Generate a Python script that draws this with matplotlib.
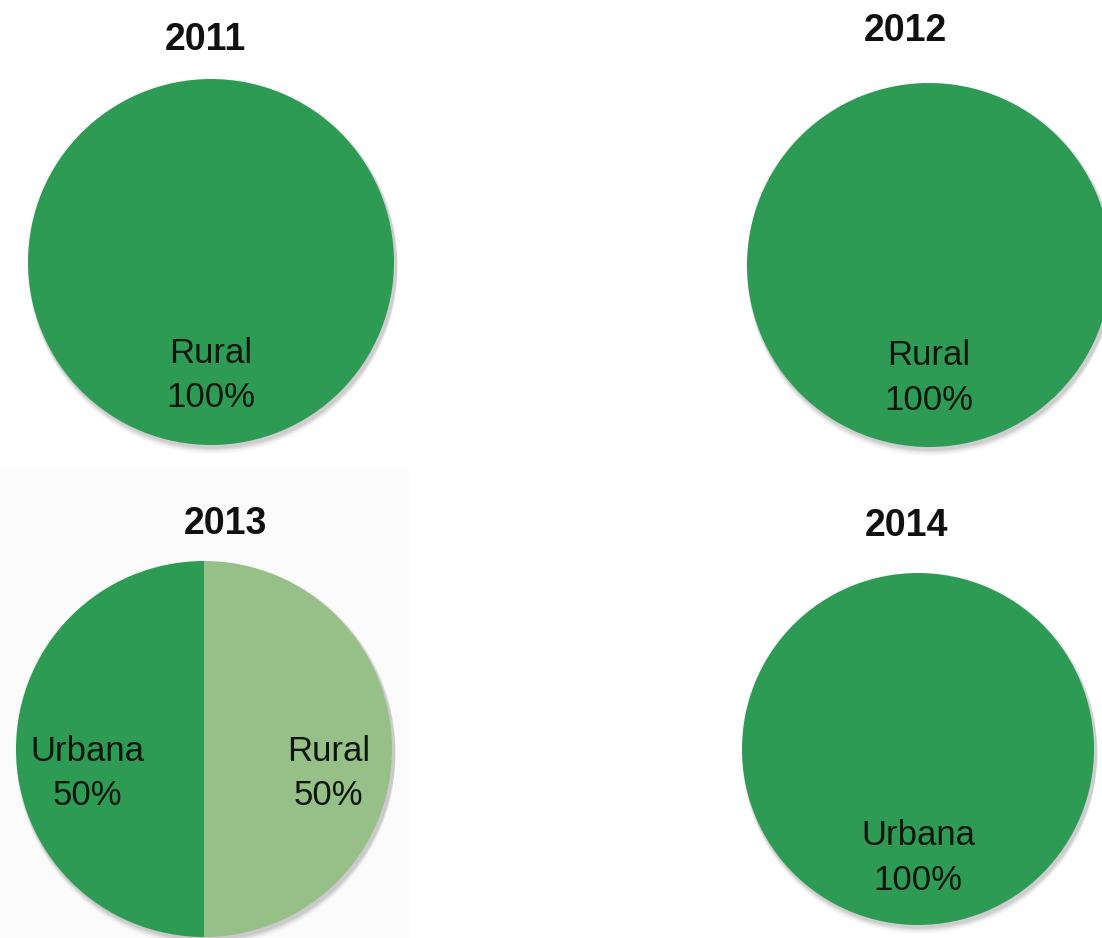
import matplotlib
matplotlib.use("Agg")
import matplotlib.pyplot as plt
from matplotlib.patches import Circle, Rectangle

years = ["2011", "2012", "2013", "2014"]
cat_2011 = ["Rural"]
val_2011 = [100]
cat_2012 = ["Rural"]
val_2012 = [100]
cat_2013 = ["Urbana", "Rural"]
val_2013 = [50, 50]
cat_2014 = ["Urbana"]
val_2014 = [100]

DARK = "#2e9b55"
LIGHT = "#97bf88"

W, H = 1102, 938
fig = plt.figure(figsize=(W / 100, H / 100), dpi=100)
fig.patch.set_facecolor("white")

# faint background panel behind 2013
bg = fig.add_axes([0, 0, 1, 1])
bg.set_xlim(0, W)
bg.set_ylim(H, 0)
bg.axis("off")
bg.add_patch(Rectangle((0, 468), 409, 470, facecolor="#fbfbfb", edgecolor="none"))

label_font = dict(family=["Liberation Sans", "DejaVu Sans"], size=25, color="#0b160d")
title_font = dict(family=["Liberation Sans", "DejaVu Sans"],
                  size=27, weight="bold", color="#111111")

# (center_x, center_y, radius, title_x, title_y) in pixels
layout = [
    (211, 262, 183, 205, 40),
    (929, 265, 182, 905, 31),
    (204, 749, 188, 225, 524),
    (918, 749, 176, 906, 526),
]
cats = [cat_2011, cat_2012, cat_2013, cat_2014]
vals = [val_2011, val_2012, val_2013, val_2014]
colors_list = [[DARK], [DARK], [DARK, LIGHT], [DARK]]

for yr, c, v, col, (cx, cy, r, tx, ty) in zip(years, cats, vals, colors_list, layout):
    pad = 1.15
    ax = fig.add_axes([(cx - r * pad) / W, 1 - (cy + r * pad) / H,
                       2 * r * pad / W, 2 * r * pad / H])
    # soft shadow
    for k, a in [(7, 0.05), (5, 0.07), (3.5, 0.09), (2, 0.1)]:
        ax.add_patch(Circle((0.01, -k / r), 1.0 + 1.5 / r, facecolor="#555555",
                            edgecolor="none", alpha=a, zorder=0))
    total = sum(v)
    labels = [f"{name}\n{val / total * 100:.0f}%" for name, val in zip(c, v)]
    wedges, texts = ax.pie(v, labels=labels, colors=col, startangle=90,
                           counterclock=True, labeldistance=0.62,
                           textprops=label_font, wedgeprops=dict(linewidth=0))
    for w in wedges:
        w.set_zorder(2)
    for t in texts:
        t.set_ha("center")
        t.set_va("center")
        t.set_linespacing(1.45)
        t.set_zorder(3)
        x, y = t.get_position()
        if len(v) > 1:
            t.set_position((x * (1.07 if x > 0 else 1.0), y - 0.13))
    ax.set_xlim(-pad, pad)
    ax.set_ylim(-pad, pad)
    ax.set_aspect("equal")
    ax.axis("off")
    fig.text(tx / W, 1 - ty / H, yr, ha="center", va="center", **title_font)

fig.savefig("out.png", dpi=100, facecolor="white")
